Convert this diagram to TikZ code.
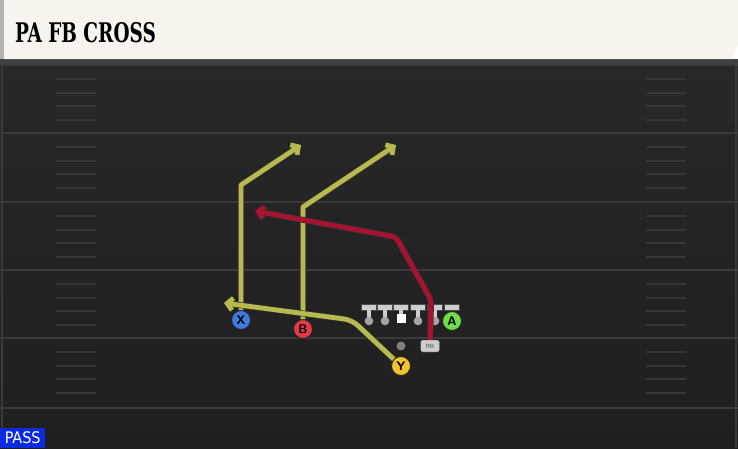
\documentclass[tikz,border=0pt]{standalone}
\usepackage{fontspec}
\setmainfont{DejaVu Sans}
\newfontfamily\titlefont{DejaVu Serif Condensed}
\newfontfamily\tagfont{DejaVu Sans Condensed}
\usetikzlibrary{arrows.meta,positioning}
\usepackage{xcolor}
\definecolor{headcream}{RGB}{246,244,237}
\definecolor{fieldtop}{RGB}{40,40,40}
\definecolor{fieldbot}{RGB}{31,31,31}
\definecolor{yardline}{RGB}{58,58,58}
\definecolor{hashgray}{RGB}{54,54,54}
\definecolor{routeyel}{RGB}{184,186,80}
\definecolor{routered}{RGB}{166,18,48}
\definecolor{xblue}{RGB}{60,125,222}
\definecolor{bred}{RGB}{226,58,70}
\definecolor{yyel}{RGB}{240,196,48}
\definecolor{agreen}{RGB}{110,222,72}
\definecolor{olgray}{RGB}{205,205,205}
\definecolor{oldot}{RGB}{165,165,165}
\definecolor{passblue}{RGB}{12,42,222}

\begin{document}
\begin{tikzpicture}[x=1pt,y=-1pt,line join=round]
  \tikzstyle{player}=[circle,draw=black!85,line width=0.9pt,minimum size=19pt,inner sep=0pt,
                      font=\sffamily\bfseries\fontsize{12.5}{12.5}\selectfont]
  \tikzstyle{route}=[draw=routeyel,line width=4.8pt,preaction={draw=black!80,line width=6pt}]
  \tikzstyle{redroute}=[route,draw=routered]
  \tikzstyle{tip}=[-{Straight Barb[length=5.5pt,width=12pt]}]
  \useasboundingbox (0,0) rectangle (738,448);

  % field
  \shade[top color=fieldtop,bottom color=fieldbot] (0,59) rectangle (738,448);
  \fill[black!75] (0,59) rectangle (738,64);
  \draw[yardline,line width=1.2pt] (2,64) -- (2,448);
  \draw[yardline,line width=1.2pt] (736,64) -- (736,448);
  \foreach \y in {65,133,202,270,338,408}
    \draw[yardline,line width=1.5pt] (0,\y) -- (738,\y);
  \foreach \y in {65,133,202,270,338}
    \foreach \k in {14,28,41,55} {
      \draw[hashgray,line width=1.3pt] (56,\y+\k) -- (96,\y+\k);
      \draw[hashgray,line width=1.3pt] (646,\y+\k) -- (686,\y+\k);
    }

  % header
  \fill[headcream] (4,0) -- (738,0) -- (738,44) -- (733,59) -- (4,59) -- cycle;
  \fill[black!30] (0,0) rectangle (4,59);
  \node[anchor=base west,inner sep=0pt] (title) at (15,42)
    {\scalebox{0.76}[1]{\titlefont\bfseries\fontsize{27}{27}\selectfont PA FB CROSS}};

  % line
  \foreach \x in {369,385,418,435} {
    \fill[olgray,draw=black!70,line width=0.4pt] (\x-7.5,304.5) rectangle (\x+7.5,310);
    \fill[olgray] (\x-2.2,310) rectangle (\x+2.2,319);
    \fill[oldot] (\x,321) circle (4.3);
  }
  \fill[olgray,draw=black!70,line width=0.4pt] (393.5,304.5) rectangle (408.5,310);
  \fill[olgray] (398.8,310) rectangle (403.2,314);
  \fill[white] (396.5,313.5) rectangle (405.5,322.5);
  \fill[olgray,draw=black!70,line width=0.4pt] (444.5,304.5) rectangle (459.5,310);
  \fill[black!50] (401,346) circle (4.5);

  % players
  \node[player,fill=xblue]  (X) at (241,320) {X};
  \node[player,fill=bred]   (B) at (303,329) {B};
  \node[player,fill=yyel]   (Y) at (401,366) {Y};
  \node[player,fill=agreen] (A) at (452,321) {A};
  \node[draw=black!80,fill=olgray,rounded corners=2pt,minimum width=19pt,minimum height=12pt,
        inner sep=0pt,font=\sffamily\fontsize{6}{6}\selectfont,text=black!70] (RB) at (430,346) {RB};

  % route points
  \coordinate (Xcut) at (241,185);
  \coordinate (Xend) at (301,145);
  \coordinate (Bcut) at (303,207);
  \coordinate (Bend) at (396,145);
  \coordinate (Ybend) at (352,320);
  \coordinate (Yend) at (224,303);
  \coordinate (RBup) at (431,300);
  \coordinate (RBcut) at (396,237);
  \coordinate (RBend) at (255,211);

  % routes
  \path[route,tip] (X) -- (Xcut) -- (Xend);
  \path[route,tip] (B) -- (Bcut) -- (Bend);
  \path[route,tip,rounded corners=8pt] (Y) -- (Ybend) -- (Yend);
  \path[redroute,tip,rounded corners=4pt] (RB) -- (RBup) -- (RBcut) -- (RBend);

  % play type
  \node[anchor=south west,fill=passblue,text=white,minimum width=45pt,minimum height=20pt,inner sep=0pt,
        font=\tagfont\fontsize{16}{16}\selectfont] (kind) at (0,448) {PASS};
\end{tikzpicture}
\end{document}
